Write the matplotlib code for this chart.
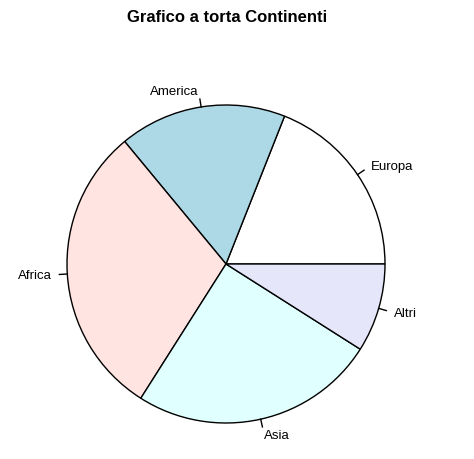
import numpy as np
import matplotlib
matplotlib.use("Agg")
import matplotlib.pyplot as plt

plt.rcParams['font.family'] = ['Liberation Sans', 'DejaVu Sans']

labels = ['Europa', 'America', 'Africa', 'Asia', 'Altri']
values = [19, 17, 30, 25, 9]
colors = ['white', 'lightblue', 'mistyrose', 'lightcyan', 'lavender']

W, H = 474, 460
cx, cy, r = 226, 265, 159

fig = plt.figure(figsize=(W / 100, H / 100), dpi=100)
ax = fig.add_axes([0, 0, 1, 1])
ax.set_xlim(-cx / r, (W - cx) / r)
ax.set_ylim(-(H - cy) / r, cy / r)
ax.set_aspect('equal')
ax.axis('off')

ax.pie(values, colors=colors, startangle=0, counterclock=True, radius=1,
       wedgeprops=dict(edgecolor='black', linewidth=1))
ax.set_xlim(-cx / r, (W - cx) / r)
ax.set_ylim(-(H - cy) / r, cy / r)

frac = np.cumsum([0] + values) / sum(values)
for i, lab in enumerate(labels):
    a = np.pi * (frac[i] + frac[i + 1])
    c, s = np.cos(a), np.sin(a)
    ax.plot([c, 1.05 * c], [s, 1.05 * s], color='black', lw=1)
    ax.text(1.1 * c, 1.1 * s, lab, ha='left' if c > 0 else 'right',
            va='center', fontsize=9.5)

fig.text(0.48, 1 - 18 / H, 'Grafico a torta Continenti', ha='center',
         va='center', fontsize=12, fontweight='bold')

fig.savefig('out.png', dpi=100)
